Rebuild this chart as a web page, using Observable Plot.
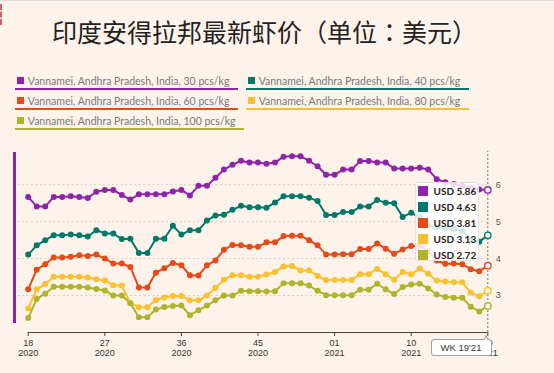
<!DOCTYPE html>
<html><head><meta charset="utf-8">
<script src="https://cdn.jsdelivr.net/npm/d3@7"></script>
<script src="https://cdn.jsdelivr.net/npm/@observablehq/plot@0.6"></script>
<style>
html,body{margin:0;padding:0;}
body{width:554px;height:373px;background:#fdf3ea;position:relative;overflow:hidden;font-family:Lato,"Noto Sans",sans-serif;}
#topline{position:absolute;left:0;top:0;width:554px;height:1px;background:#dcdcdc;}
#redmark{position:absolute;left:0;top:4px;height:21px;border-left:2px dashed #e06060;}
#title{position:absolute;left:52px;top:18px;font-family:"Noto Sans CJK TC",sans-serif;font-size:25px;line-height:26px;color:#222;white-space:nowrap;}
.item{position:absolute;height:14px;display:flex;align-items:center;border-bottom:2px solid;padding:0 9px 0 2px;color:#7a7a7a;font-size:10.5px;white-space:nowrap;}
.item .sw{width:7px;height:7px;margin-right:4px;flex:none;}
#bar{position:absolute;left:12.5px;top:152px;width:3px;height:171px;background:#8e24aa;}
#chart{position:absolute;left:0;top:140px;}
#chart svg{overflow:visible;}
#tip{position:absolute;left:414.5px;top:182px;width:64px;height:79px;border:1px solid #e0e0e0;border-radius:3px;background:rgba(255,255,255,0.82);box-sizing:border-box;}
.row{height:16px;display:flex;align-items:center;padding-left:2.5px;font-weight:bold;font-size:10px;color:#222;white-space:nowrap;}
.row .sq{width:10px;height:10px;margin-right:5.5px;flex:none;}
#wk{position:absolute;left:430.5px;top:339px;width:61px;height:17px;border:1px solid #a0a0a0;border-radius:3px;background:#fff;box-sizing:border-box;font-family:"Liberation Sans",sans-serif;font-size:9.5px;color:#333;text-align:center;line-height:15px;}
#wk:before{content:"";position:absolute;right:2px;top:-5px;border-left:3px solid transparent;border-right:3px solid transparent;border-bottom:5px solid #a0a0a0;}
#wk:after{content:"";position:absolute;right:3px;top:-3px;border-left:2px solid transparent;border-right:2px solid transparent;border-bottom:4px solid #fff;}
</style></head><body>
<div id="topline"></div>
<div id="redmark"></div>
<div id="title">印度安得拉邦最新虾价（单位：美元）</div>
<div id="legend"></div>
<div id="bar"></div>
<div id="chart"></div>
<div id="tip"></div>
<div id="wk">WK 19'21</div>
<script>
const seriesNames = [
  "Vannamei, Andhra Pradesh, India, 30 pcs/kg",
  "Vannamei, Andhra Pradesh, India, 40 pcs/kg",
  "Vannamei, Andhra Pradesh, India, 60 pcs/kg",
  "Vannamei, Andhra Pradesh, India, 80 pcs/kg",
  "Vannamei, Andhra Pradesh, India, 100 pcs/kg"
];
const seriesColors = ["#8e24aa", "#00796b", "#e64a19", "#fbc02d", "#afb42b"];

// weekly values, week 18 2020 (index 0) to week 19 2021 (index 54)
const pcs30 = [5.67,5.41,5.41,5.67,5.67,5.69,5.67,5.64,5.81,5.86,5.86,5.72,5.60,5.74,5.74,5.74,5.74,5.82,5.86,5.71,5.97,5.97,6.19,6.41,6.54,6.65,6.60,6.60,6.57,6.60,6.76,6.77,6.77,6.65,6.50,6.27,6.27,6.41,6.41,6.64,6.64,6.60,6.60,6.44,6.44,6.44,6.46,6.41,6.15,6.07,6.02,5.98,5.92,5.87,5.86];
const pcs40 = [4.11,4.36,4.50,4.63,4.63,4.65,4.63,4.60,4.77,4.68,4.68,4.53,4.54,4.15,4.15,4.54,4.54,4.89,4.65,4.77,4.77,5.03,5.17,5.19,5.32,5.43,5.39,5.39,5.38,5.52,5.69,5.69,5.69,5.65,5.56,5.18,5.18,5.26,5.26,5.41,5.41,5.59,5.51,5.50,5.13,5.24,5.12,4.90,4.85,4.82,4.80,4.75,4.52,4.46,4.63];
const pcs60 = [3.17,3.70,3.85,4.03,4.03,4.05,4.09,4.07,4.11,4.00,3.87,3.87,3.77,3.22,3.22,3.62,3.74,3.88,3.82,3.55,3.54,3.82,3.95,4.24,4.37,4.36,4.32,4.32,4.44,4.44,4.61,4.62,4.62,4.50,4.36,4.11,4.11,4.12,4.12,4.26,4.26,4.41,4.27,4.13,4.25,4.34,4.35,4.20,3.95,3.86,3.87,3.85,3.71,3.66,3.81];
const pcs80 = [2.65,3.17,3.31,3.51,3.51,3.51,3.51,3.49,3.44,3.41,3.28,3.27,2.80,2.685,2.685,2.88,2.95,2.99,2.99,2.87,2.87,3.00,3.21,3.43,3.55,3.55,3.51,3.51,3.57,3.64,3.79,3.80,3.68,3.68,3.53,3.42,3.42,3.42,3.42,3.58,3.58,3.72,3.58,3.43,3.64,3.58,3.73,3.59,3.41,3.38,3.36,3.36,3.08,2.98,3.13];
const pcs100 = [2.39,2.91,3.05,3.24,3.24,3.24,3.24,3.22,3.18,3.14,3.00,3.00,2.79,2.41,2.41,2.62,2.69,2.72,2.73,2.47,2.60,2.73,2.87,3.00,3.00,3.13,3.12,3.12,3.11,3.12,3.33,3.33,3.33,3.27,3.13,3.01,3.01,3.01,3.01,3.16,3.16,3.32,3.17,3.04,3.23,3.30,3.32,3.19,3.03,2.96,2.94,2.94,2.70,2.57,2.72];

const tickWeeks = [0, 9, 18, 27, 36, 45, 54];
const tickLabels = ["18\n2020", "27\n2020", "36\n2020", "45\n2020", "01\n2021", "10\n2021", "19\n2021"];
const yTicks = [3, 4, 5, 6];

const allSeries = [pcs30, pcs40, pcs60, pcs80, pcs100];
const rows = [];
allSeries.forEach((vals, k) => vals.forEach((v, i) => rows.push({i, v, s: seriesNames[k]})));
const lastIdx = pcs30.length - 1;
const body = rows.filter(d => d.i < lastIdx);
const ends = rows.filter(d => d.i === lastIdx);

// legend
const legendPos = [[14.8, 73.5], [245.7, 73.5], [14.8, 93.5], [245.7, 93.5], [14.8, 113.5]];
const legend = document.getElementById("legend");
seriesNames.forEach((name, k) => {
  const it = document.createElement("div");
  it.className = "item";
  it.style.left = legendPos[k][0] + "px";
  it.style.top = legendPos[k][1] + "px";
  it.style.borderBottomColor = seriesColors[k];
  it.innerHTML = `<span class="sw" style="background:${seriesColors[k]}"></span><span>${name}</span>`;
  legend.appendChild(it);
});

// tooltip
const tip = document.getElementById("tip");
allSeries.forEach((vals, k) => {
  const r = document.createElement("div");
  r.className = "row";
  r.innerHTML = `<span class="sq" style="background:${seriesColors[k]}"></span><span>USD ${vals[lastIdx].toFixed(2)}</span>`;
  tip.appendChild(r);
});

const chart = Plot.plot({
  width: 554,
  height: 225,
  marginLeft: 27.7,
  marginRight: 66.7,
  marginTop: 11,
  marginBottom: 33,
  x: {domain: [0, 54]},
  y: {domain: [2, 6.9]},
  color: {domain: seriesNames, range: seriesColors},
  style: {background: "transparent", fontFamily: "'Liberation Sans', sans-serif", fontSize: "9px", color: "#333"},
  marks: [
    Plot.ruleY(yTicks, {x1: -1.2, x2: 54, stroke: "#cfcfcf", strokeDasharray: "2,2.5"}),
    Plot.ruleX([lastIdx], {y1: 2, y2: 6.9, stroke: "#777", strokeDasharray: "2,2"}),
    Plot.line(rows, {x: "i", y: "v", z: "s", stroke: "s", strokeWidth: 2}),
    Plot.dot(body, {x: "i", y: "v", fill: "s", r: 3}),
    Plot.dot(ends, {x: "i", y: "v", stroke: "s", fill: "white", r: 3.2, strokeWidth: 1.4}),
    Plot.ruleY([2], {x1: 0, x2: 54, stroke: "#444"}),
    Plot.axisX({ticks: tickWeeks, tickFormat: d => tickLabels[tickWeeks.indexOf(d)], tickSize: 4, tickPadding: 2, lineHeight: 1.15, stroke: "#444", fill: "#333", label: null}),
    Plot.axisY({anchor: "right", ticks: yTicks, tickFormat: d => String(d), tickSize: 0, tickPadding: 8, fill: "#555", label: null})
  ]
});
document.getElementById("chart").appendChild(chart);
</script>
</body></html>
